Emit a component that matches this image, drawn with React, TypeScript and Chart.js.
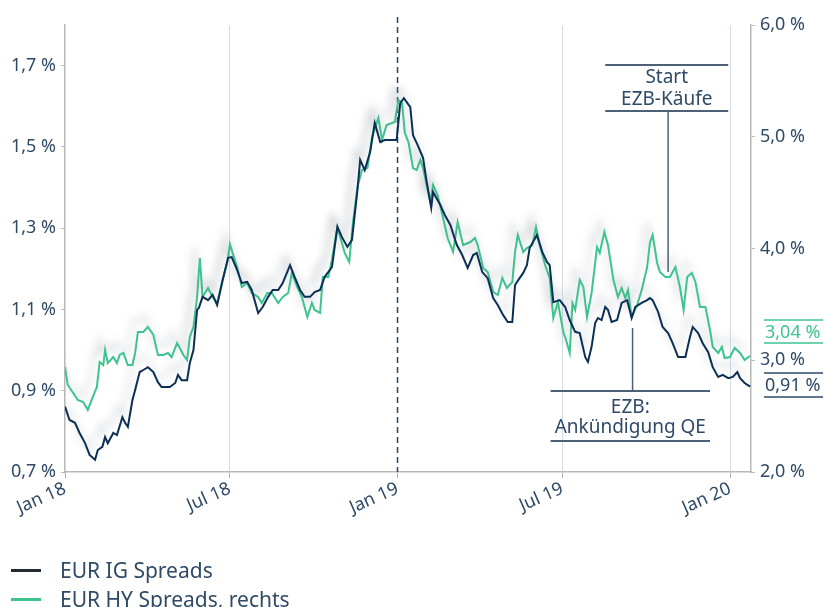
import React, { useEffect, useRef } from "react";
import { Chart, registerables } from "chart.js";

Chart.register(...registerables);

// ---- axes ----
// x values are days since 1 Jan 2018
const xTickDays = [0, 181, 365, 546, 730];
const xTickLabels = ["Jan 18", "Jul 18", "Jan 19", "Jul 19", "Jan 20"];
const leftTicks = [0.7, 0.9, 1.1, 1.3, 1.5, 1.7];
const rightTicks = [2, 3, 4, 5, 6];

// ---- series: EUR IG Spreads (left axis, %) ----
const igDays = [
  0, 5, 11, 16, 22, 27, 33, 36, 41, 44,
  47, 53, 57, 63, 66, 69, 74, 77, 82, 86,
  91, 97, 102, 106, 115, 121, 124, 128, 134, 137,
  141, 145, 147, 151, 157, 162, 167, 173, 179, 183,
  189, 194, 200, 205, 212, 217, 223, 228, 234, 239,
  247, 252, 258, 263, 269, 274, 280, 285, 293, 299,
  304, 310, 315, 321, 324, 329, 335, 340, 346, 351,
  364, 368, 372, 379, 382, 387, 393, 397, 402, 404,
  412, 417, 423, 430, 436, 442, 448, 452, 458, 464,
  470, 475, 481, 486, 491, 494, 499, 503, 507, 510,
  518, 524, 529, 532, 536, 543, 549, 554, 560, 565,
  571, 574, 578, 582, 585, 589, 593, 596, 600, 606,
  611, 617, 622, 626, 633, 639, 642, 645, 651, 656,
  662, 667, 673, 681, 686, 689, 695, 700, 706, 711,
  717, 722, 728, 733, 738, 741, 746, 752,
];
const igSpreads = [
  0.861, 0.828, 0.821, 0.796, 0.771, 0.742, 0.730, 0.754, 0.762, 0.786,
  0.771, 0.796, 0.791, 0.835, 0.821, 0.811, 0.877, 0.902, 0.946, 0.951,
  0.958, 0.946, 0.921, 0.909, 0.909, 0.919, 0.939, 0.926, 0.926, 0.968,
  1.000, 1.099, 1.104, 1.131, 1.123, 1.136, 1.111, 1.172, 1.227, 1.229,
  1.197, 1.165, 1.168, 1.148, 1.091, 1.106, 1.131, 1.148, 1.148, 1.165,
  1.209, 1.180, 1.148, 1.131, 1.131, 1.143, 1.148, 1.180, 1.204, 1.303,
  1.278, 1.254, 1.271, 1.394, 1.468, 1.443, 1.488, 1.559, 1.512, 1.517,
  1.517, 1.608, 1.620, 1.598, 1.529, 1.505, 1.473, 1.414, 1.350, 1.389,
  1.357, 1.332, 1.308, 1.259, 1.234, 1.202, 1.234, 1.239, 1.192, 1.177,
  1.128, 1.111, 1.086, 1.069, 1.069, 1.160, 1.177, 1.190, 1.209, 1.251,
  1.283, 1.241, 1.217, 1.209, 1.118, 1.123, 1.106, 1.074, 1.045, 1.042,
  0.983, 0.971, 1.008, 1.067, 1.079, 1.074, 1.106, 1.099, 1.069, 1.074,
  1.116, 1.123, 1.079, 1.106, 1.116, 1.123, 1.128, 1.123, 1.094, 1.057,
  1.042, 1.017, 0.983, 0.983, 1.032, 1.057, 1.042, 1.017, 0.995, 0.958,
  0.934, 0.939, 0.931, 0.934, 0.946, 0.931, 0.919, 0.910,
];

// ---- series: EUR HY Spreads (right axis, %) ----
const hyDays = [
  0, 3, 9, 14, 20, 25, 30, 35, 38, 42,
  44, 47, 53, 57, 60, 64, 69, 74, 77, 80,
  86, 91, 97, 102, 108, 113, 117, 123, 126, 130,
  134, 137, 141, 145, 148, 151, 157, 162, 167, 173,
  178, 181, 184, 189, 194, 200, 205, 212, 216, 222,
  227, 234, 239, 245, 249, 255, 260, 266, 271, 274,
  280, 283, 289, 293, 299, 304, 307, 312, 316, 321,
  326, 332, 337, 344, 348, 353, 362, 366, 370, 373,
  377, 382, 386, 390, 393, 397, 401, 404, 409, 415,
  420, 426, 431, 437, 445, 450, 453, 459, 464, 470,
  475, 480, 485, 491, 494, 497, 503, 507, 513, 517,
  521, 527, 532, 536, 541, 547, 550, 554, 557, 560,
  565, 569, 573, 578, 584, 587, 592, 596, 602, 607,
  611, 615, 618, 622, 628, 633, 639, 642, 645, 650,
  653, 659, 664, 670, 675, 679, 683, 688, 692, 697,
  703, 708, 711, 717, 721, 724, 730, 735, 741, 746,
  752,
];
const hySpreads = [
  2.940, 2.779, 2.707, 2.644, 2.626, 2.555, 2.662, 2.761, 2.984, 2.957,
  3.092, 2.975, 3.029, 2.975, 3.047, 3.065, 2.957, 2.957, 3.065, 3.253,
  3.253, 3.298, 3.226, 3.047, 3.047, 3.065, 3.029, 3.154, 3.110, 3.047,
  3.002, 3.208, 3.298, 3.566, 3.915, 3.566, 3.647, 3.566, 3.512, 3.718,
  3.870, 4.040, 3.960, 3.834, 3.655, 3.691, 3.602, 3.566, 3.512, 3.602,
  3.602, 3.512, 3.566, 3.602, 3.781, 3.655, 3.566, 3.387, 3.512, 3.450,
  3.423, 3.745, 3.745, 3.897, 4.192, 4.049, 3.960, 3.879, 4.228, 4.550,
  4.702, 4.720, 4.998, 5.168, 4.971, 5.105, 5.132, 5.329, 5.302, 5.034,
  4.953, 4.720, 4.702, 4.792, 4.720, 4.568, 4.416, 4.568, 4.479, 4.273,
  4.094, 3.969, 4.237, 4.031, 4.058, 4.094, 4.031, 3.826, 3.790, 3.611,
  3.584, 3.736, 3.647, 3.700, 3.969, 4.121, 3.969, 4.004, 4.031, 4.192,
  4.031, 3.852, 3.736, 3.378, 3.521, 3.253, 3.181, 3.065, 3.512, 3.450,
  3.718, 3.655, 3.387, 3.602, 4.013, 3.960, 4.148, 4.031, 3.718, 3.566,
  3.647, 3.557, 3.629, 3.387, 3.494, 3.629, 3.834, 4.049, 4.121, 3.870,
  3.790, 3.745, 3.745, 3.834, 3.655, 3.450, 3.745, 3.781, 3.700, 3.477,
  3.477, 3.271, 3.119, 3.065, 3.119, 3.020, 3.029, 3.110, 3.065, 3.002,
  3.040,
];

const seriesNames = ["EUR IG Spreads", "EUR HY Spreads, rechts"];

// ---- annotations (x in days, y in right-axis units) ----
const startNoteLines = ["Start", "EZB-Käufe"];
const startNoteBox = { xFrom: 593, xTo: 728, yTop: 5.642, yBottom: 5.231, textY: [5.526, 5.329], pointerX: 662, pointerY: 3.79 };
const qeNoteLines = ["EZB:", "Ankündigung QE"];
const qeNoteBox = { xFrom: 533, xTo: 708, yTop: 2.725, yBottom: 2.277, textY: [2.573, 2.394], pointerX: 623, pointerY: 3.289 };
const markerDay = 365; // dashed line at Jan 19
const endLabelHY = { yTop: 3.36, yText: 3.244, yBottom: 3.154 };
const endLabelIG = { yTop: 2.886, yText: 2.77, yBottom: 2.671 };

const NAVY = "#0b2f55";
const GREEN = "#3ec48e";
const TEXT = "#2e4a66";
const NOTE = "#4d6176";
const FONT = "'Noto Sans', sans-serif";

const fmt = (v: number, d: number) => v.toFixed(d).replace(".", ",") + " %";

const shadowPlugin = {
  id: "lineShadow",
  beforeDatasetDraw(chart: any) {
    const c = chart.ctx;
    c.save();
    c.shadowColor = "rgba(105,115,130,0.35)";
    c.shadowBlur = 9;
    c.shadowOffsetX = -5;
    c.shadowOffsetY = -11;
  },
  afterDatasetDraw(chart: any) {
    chart.ctx.restore();
  },
};

const notesPlugin = {
  id: "notes",
  beforeDatasetsDraw(chart: any) {
    const { ctx, chartArea, scales } = chart;
    const x = scales.x.getPixelForValue(markerDay);
    ctx.save();
    ctx.strokeStyle = "#2c4563";
    ctx.lineWidth = 1.5;
    ctx.setLineDash([6, 4]);
    ctx.beginPath();
    ctx.moveTo(x, chartArea.top - 8);
    ctx.lineTo(x, chartArea.bottom);
    ctx.stroke();
    ctx.restore();
  },
  afterDatasetsDraw(chart: any) {
    const { ctx, chartArea, scales, width } = chart;
    const sx = scales.x;
    const sy = scales.y1;
    const hline = (x1: number, x2: number, y: number, color: string, w: number) => {
      ctx.strokeStyle = color;
      ctx.lineWidth = w;
      ctx.beginPath();
      ctx.moveTo(x1, y);
      ctx.lineTo(x2, y);
      ctx.stroke();
    };
    ctx.save();
    ctx.font = `19px ${FONT}`;
    ctx.textBaseline = "middle";
    const drawNote = (box: any, lines: string[], pointerUp: boolean) => {
      const x1 = sx.getPixelForValue(box.xFrom);
      const x2 = sx.getPixelForValue(box.xTo);
      const yt = sy.getPixelForValue(box.yTop);
      const yb = sy.getPixelForValue(box.yBottom);
      hline(x1, x2, yt, NOTE, 2);
      hline(x1, x2, yb, NOTE, 2);
      const px = sx.getPixelForValue(box.pointerX);
      const py = sy.getPixelForValue(box.pointerY);
      ctx.strokeStyle = NOTE;
      ctx.lineWidth = 1.5;
      ctx.beginPath();
      ctx.moveTo(px, pointerUp ? yt : yb);
      ctx.lineTo(px, py);
      ctx.stroke();
      ctx.fillStyle = TEXT;
      ctx.textAlign = "center";
      lines.forEach((t, i) => ctx.fillText(t, (x1 + x2) / 2, sy.getPixelForValue(box.textY[i])));
    };
    drawNote(startNoteBox, startNoteLines, false);
    drawNote(qeNoteBox, qeNoteLines, true);

    ctx.font = `18px ${FONT}`;
    const lx1 = chartArea.right + 13;
    const lx2 = width - 2;
    ctx.textAlign = "left";
    hline(lx1, lx2, sy.getPixelForValue(endLabelHY.yTop), GREEN, 1.5);
    hline(lx1, lx2, sy.getPixelForValue(endLabelHY.yBottom), GREEN, 1.5);
    ctx.fillStyle = GREEN;
    ctx.fillText(fmt(hySpreads[hySpreads.length - 1], 2), lx1 + 1, sy.getPixelForValue(endLabelHY.yText));
    hline(lx1, lx2, sy.getPixelForValue(endLabelIG.yTop), TEXT, 1.5);
    hline(lx1, lx2, sy.getPixelForValue(endLabelIG.yBottom), TEXT, 1.5);
    ctx.fillStyle = TEXT;
    ctx.fillText(fmt(igSpreads[igSpreads.length - 1], 2), lx1 + 1, sy.getPixelForValue(endLabelIG.yText));
    ctx.restore();
  },
};

export default function App() {
  const ref = useRef<HTMLCanvasElement | null>(null);
  useEffect(() => {
    if (!ref.current) return;
    const tickFont = { family: FONT, size: 18 };
    const chart = new Chart(ref.current, {
      type: "line",
      data: {
        datasets: [
          {
            label: seriesNames[0],
            data: igDays.map((d, i) => ({ x: d, y: igSpreads[i] })),
            borderColor: NAVY,
            borderWidth: 2,
            yAxisID: "y",
            pointRadius: 0,
            tension: 0,
          },
          {
            label: seriesNames[1],
            data: hyDays.map((d, i) => ({ x: d, y: hySpreads[i] })),
            borderColor: GREEN,
            borderWidth: 2,
            yAxisID: "y1",
            pointRadius: 0,
            tension: 0,
          },
        ],
      },
      options: {
        animation: false,
        responsive: false,
        maintainAspectRatio: false,
        layout: { padding: { top: 25, left: 0, right: 0, bottom: 0 } },
        plugins: { legend: { display: false }, tooltip: { enabled: false } },
        scales: {
          x: {
            type: "linear",
            min: 0,
            max: 753,
            afterBuildTicks: (s: any) => {
              s.ticks = xTickDays.map((v) => ({ value: v }));
            },
            afterFit: (s: any) => {
              s.height = 135;
            },
            ticks: {
              autoSkip: false,
              minRotation: 24,
              maxRotation: 24,
              padding: 0,
              color: TEXT,
              font: tickFont,
              callback: (v: any) => {
                const i = xTickDays.indexOf(Number(v));
                return i >= 0 ? xTickLabels[i] : "";
              },
            },
            grid: {
              color: (c: any) => {
                const v = c.tick ? c.tick.value : -1;
                return v === 0 || v === markerDay ? "rgba(0,0,0,0)" : "#d4dde8";
              },
              tickColor: "#a9b0b8",
              tickLength: 6,
              lineWidth: 1,
            },
            border: { color: "#b8b8b8", width: 1.5 },
          },
          y: {
            position: "left",
            min: 0.7,
            max: 1.8,
            afterBuildTicks: (s: any) => {
              s.ticks = leftTicks.map((v) => ({ value: v }));
            },
            afterFit: (s: any) => {
              s.width = 65;
            },
            ticks: {
              color: TEXT,
              font: tickFont,
              padding: 5,
              callback: (v: any) => fmt(Number(v), 1),
            },
            grid: { drawOnChartArea: false, tickLength: 4, color: "#b8b8b8" },
            border: { color: "#b8b8b8", width: 1.5 },
          },
          y1: {
            position: "right",
            min: 2,
            max: 6,
            afterBuildTicks: (s: any) => {
              s.ticks = rightTicks.map((v) => ({ value: v }));
            },
            afterFit: (s: any) => {
              s.width = 74;
            },
            ticks: {
              color: TEXT,
              font: tickFont,
              padding: 5,
              callback: (v: any) => fmt(Number(v), 1),
            },
            grid: { drawOnChartArea: false, tickLength: 4, color: "#b8b8b8" },
            border: { color: "#b8b8b8", width: 1.5 },
          },
        },
      } as any,
      plugins: [shadowPlugin, notesPlugin],
    });
    return () => chart.destroy();
  }, []);

  const legendRow = (color: string, text: string, top: number) => (
    <div style={{ position: "absolute", left: 11, top, height: 28, display: "flex", alignItems: "center" }}>
      <div style={{ width: 30, height: 3, background: color, marginRight: 19 }} />
      <span style={{ fontFamily: FONT, fontSize: 21, color: TEXT, whiteSpace: "nowrap" }}>{text}</span>
    </div>
  );

  return (
    <div style={{ position: "absolute", left: 0, top: 0, width: 825, height: 607, overflow: "hidden", background: "#fff" }}>
      <canvas ref={ref} width={825} height={607} style={{ position: "absolute", left: 0, top: 0, width: 825, height: 607 }} />
      {legendRow("#222a33", seriesNames[0], 556)}
      {legendRow(GREEN, seriesNames[1], 585)}
    </div>
  );
}
